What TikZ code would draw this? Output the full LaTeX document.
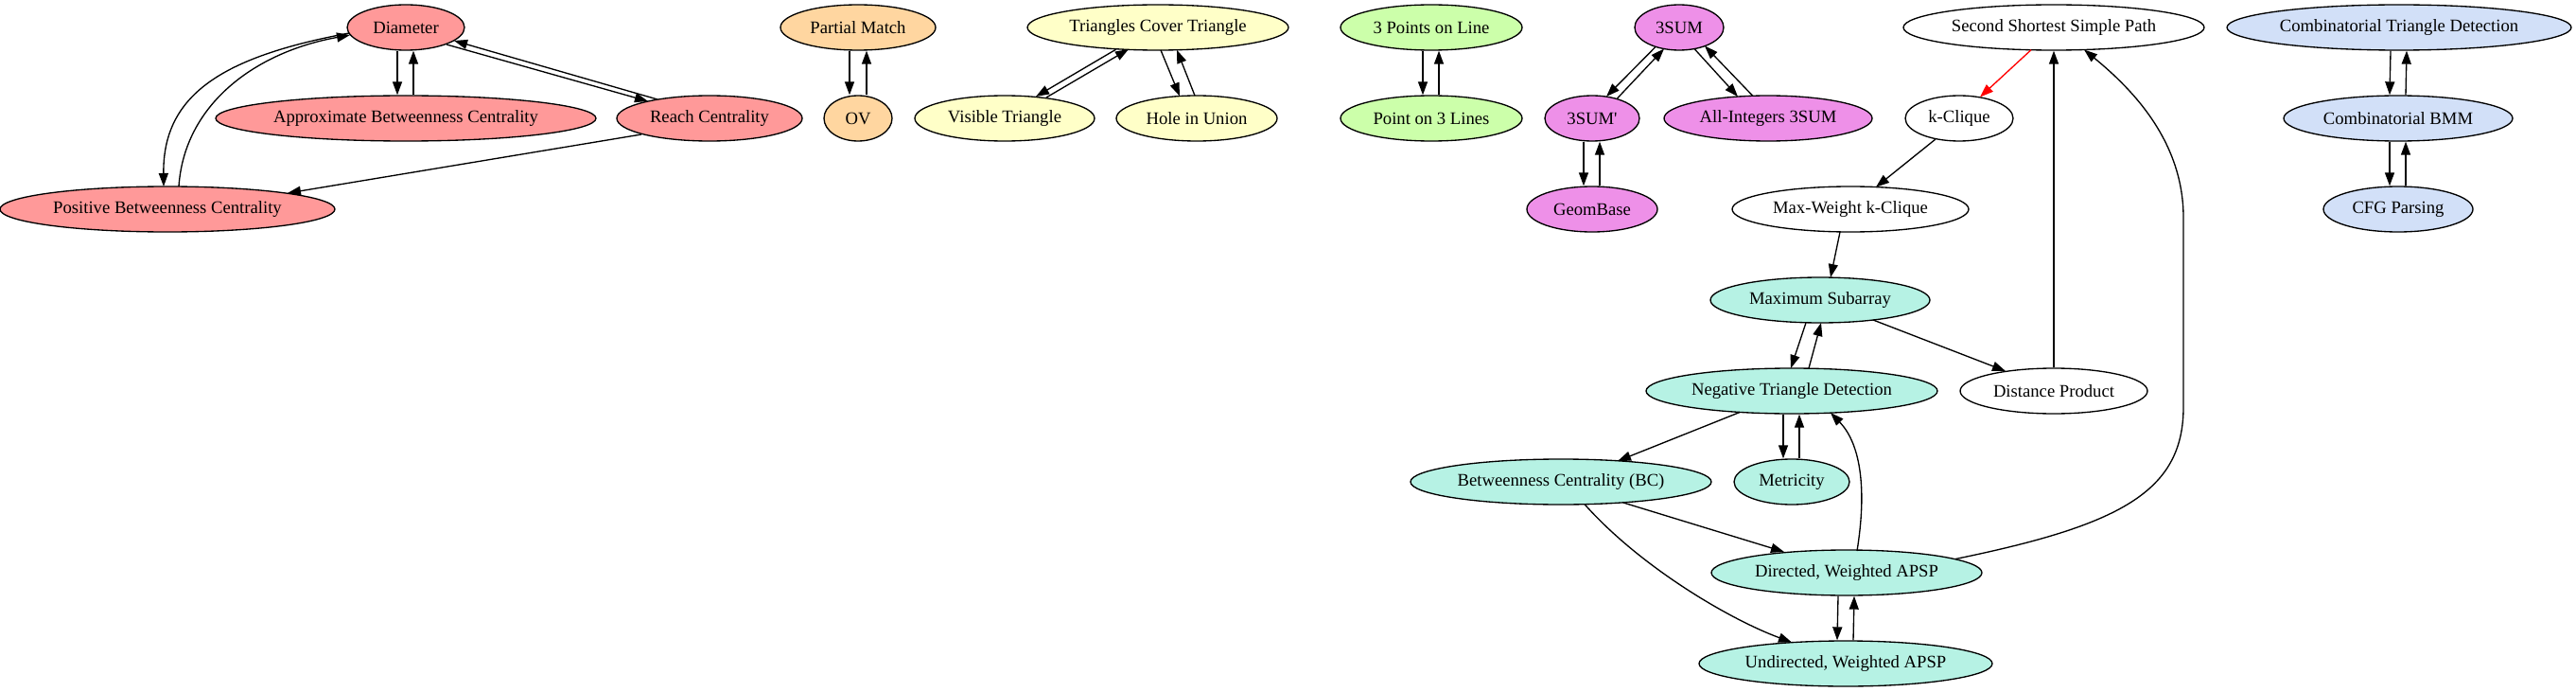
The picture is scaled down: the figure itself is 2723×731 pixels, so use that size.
\documentclass[tikz,border=0pt]{standalone}
\usepackage{fontspec}
\newfontfamily\gvfont{Liberation Serif}
\usetikzlibrary{shapes.geometric,arrows.meta,calc}
\definecolor{cred}{HTML}{FF9999}
\definecolor{corange}{HTML}{FFD6A0}
\definecolor{cyellow}{HTML}{FFFFC8}
\definecolor{cgreen}{HTML}{CCFFAA}
\definecolor{cviolet}{HTML}{EE90E8}
\definecolor{cteal}{HTML}{B6F2E4}
\definecolor{cblue}{HTML}{D2E0F8}
\begin{document}
\begin{tikzpicture}[x=0.75pt,y=-0.75pt,
  gn/.style={ellipse,draw=black,line width=1pt,inner sep=0pt,minimum height=36pt,
             font=\gvfont\fontsize{14pt}{16pt}\selectfont},
  e/.style={line width=1pt,-{Triangle[length=10.5pt,width=7.5pt]}},
  er/.style={e,draw=red,fill=red},
]
\useasboundingbox (0,0) rectangle (2723,731);

% ---- red cluster
\node[gn,fill=cred,minimum width=93pt]    (diam)  at (429,29)  {Diameter};
\node[gn,fill=cred,minimum width=301.5pt] (abc)   at (429,125) {Approximate Betweenness Centrality};
\node[gn,fill=cred,minimum width=147pt]   (reach) at (750,125) {Reach Centrality};
\node[gn,fill=cred,minimum width=265.5pt] (pbc)   at (177,221) {Positive Betweenness Centrality};
% ---- orange
\node[gn,fill=corange,minimum width=123pt] (pm) at (907,29)  {Partial Match};
\node[gn,fill=corange,minimum width=54pt]  (ov) at (907,125) {OV};
% ---- yellow
\node[gn,fill=cyellow,minimum width=207pt]   (tct) at (1224,29)  {Triangles Cover Triangle};
\node[gn,fill=cyellow,minimum width=142.5pt] (vt)  at (1062,125) {Visible Triangle};
\node[gn,fill=cyellow,minimum width=127.5pt] (hu)  at (1265,125) {Hole in Union};
% ---- green
\node[gn,fill=cgreen,minimum width=144pt] (tpl) at (1513,29)  {3 Points on Line};
\node[gn,fill=cgreen,minimum width=144pt] (ptl) at (1513,125) {Point on 3 Lines};
% ---- violet
\node[gn,fill=cviolet,minimum width=70.5pt]  (s3)  at (1775,29)  {3SUM};
\node[gn,fill=cviolet,minimum width=75pt]    (s3p) at (1683,125) {3SUM'};
\node[gn,fill=cviolet,minimum width=165pt]   (ai)  at (1869,125) {All-Integers 3SUM};
\node[gn,fill=cviolet,minimum width=103.5pt] (gb)  at (1683,221) {GeomBase};
% ---- white
\node[gn,fill=white,minimum width=238.5pt] (sssp) at (2171,29)  {Second Shortest Simple Path};
\node[gn,fill=white,minimum width=85.5pt]  (kc)   at (2071,125) {k-Clique};
\node[gn,fill=white,minimum width=187.5pt] (mwk)  at (1956,221) {Max-Weight k-Clique};
\node[gn,fill=white,minimum width=148.5pt] (dp)   at (2171,413) {Distance Product};
% ---- teal
\node[gn,fill=cteal,minimum width=174pt]   (ms)    at (1924,317) {Maximum Subarray};
\node[gn,fill=cteal,minimum width=231pt]   (ntd)   at (1894,413) {Negative Triangle Detection};
\node[gn,fill=cteal,minimum width=238.5pt] (bc)    at (1650,509) {Betweenness Centrality (BC)};
\node[gn,fill=cteal,minimum width=91.5pt]  (met)   at (1894,509) {Metricity};
\node[gn,fill=cteal,minimum width=214.5pt] (dapsp) at (1952,605) {Directed, Weighted APSP};
\node[gn,fill=cteal,minimum width=232.5pt] (uapsp) at (1951,701) {Undirected, Weighted APSP};
% ---- blue
\node[gn,fill=cblue,minimum width=273pt]   (ctd)  at (2536,29)  {Combinatorial Triangle Detection};
\node[gn,fill=cblue,minimum width=181.5pt] (cbmm) at (2535,125) {Combinatorial BMM};
\node[gn,fill=cblue,minimum width=118.5pt] (cfg)  at (2535,221) {CFG Parsing};

% ---- red cluster edges
\draw[e] ([xshift=-6.75pt]diam.south) -- ([xshift=-6.75pt]abc.north);
\draw[e] ([xshift=6pt]abc.north) -- ([xshift=6pt]diam.south);
\draw[e] ($(diam.center)+(43,18)$) -- ($(reach.center)+(-65,-18)$);
\draw[e] ($(reach.center)+(-55,-20)$) -- ($(diam.center)+(51,14)$);
\draw[e] ($(diam.center)+(-60,6)$) .. controls (235,60) and (172,100) .. ($(pbc.center)+(-4,-24)$);
\draw[e] ($(pbc.center)+(12,-24)$) .. controls (195,110) and (270,55) .. ($(diam.center)+(-59,8)$);
\draw[e] ($(reach.center)+(-72,17)$) -- ($(pbc.center)+(127,-17)$);
% ---- orange
\draw[e] ([xshift=-6.75pt]pm.south) -- ([xshift=-6.75pt]ov.north);
\draw[e] ([xshift=6.75pt]ov.north) -- ([xshift=6.75pt]pm.south);
% ---- yellow
\draw[e] ($(tct.center)+(-44,23)$) -- ($(vt.center)+(33,-23)$);
\draw[e] ($(vt.center)+(44,-22)$) -- ($(tct.center)+(-31,23)$);
\draw[e] ($(tct.center)+(3,24)$) -- ($(hu.center)+(-18,-23.5)$);
\draw[e] ($(hu.center)+(-2,-24)$) -- ($(tct.center)+(20,23.8)$);
% ---- green
\draw[e] ([xshift=-6.75pt]tpl.south) -- ([xshift=-6.75pt]ptl.north);
\draw[e] ([xshift=6pt]ptl.north) -- ([xshift=6pt]tpl.south);
% ---- violet
\draw[e] ($(s3.center)+(-25,20.5)$) -- ($(s3p.center)+(15,-23)$);
\draw[e] ($(s3p.center)+(26,-20.5)$) -- ($(s3.center)+(-16,22.5)$);
\draw[e] ($(s3.center)+(16,22.5)$) -- ($(ai.center)+(-32,-23)$);
\draw[e] ($(ai.center)+(-16,-23.5)$) -- ($(s3.center)+(27,19.5)$);
\draw[e] ([xshift=-6.75pt]s3p.south) -- ([xshift=-6.75pt]gb.north);
\draw[e] ([xshift=6pt]gb.north) -- ([xshift=6pt]s3p.south);
% ---- white / teal
\draw[er] ($(sssp.center)+(-24,23.7)$) -- ($(kc.center)+(22,-22.5)$);
\draw[e] ($(kc.center)+(-25,22)$) -- ($(mwk.center)+(27,-23.4)$);
\draw[e] ($(mwk.center)+(-11,24)$) -- ($(ms.center)+(11,-24)$);
\draw[e] ($(ms.center)+(-15,24)$) -- ($(ntd.center)+(-1,-24)$);
\draw[e] ($(ntd.center)+(18,-24)$) -- ($(ms.center)+(1,24)$);
\draw[e] ($(ms.center)+(56,21)$) -- ($(dp.center)+(-51,-21)$);
\draw[e] (dp) -- (sssp);
\draw[e] ($(dapsp.center)+(115,-14.5)$) .. controls (2240,555) and (2308,520) .. (2308,430)
         -- (2308,230) .. controls (2308,150) and (2255,95) .. ($(sssp.center)+(32,23.5)$);
\draw[e] ($(dapsp.center)+(11,-23)$) .. controls (1973,520) and (1968,470) .. ($(ntd.center)+(41,23)$);
\draw[e] ($(ntd.center)+(-55,22.5)$) -- ($(bc.center)+(60,-22)$);
\draw[e] ([xshift=-6.75pt]ntd.south) -- ([xshift=-6.75pt]met.north);
\draw[e] ([xshift=6pt]met.north) -- ([xshift=6pt]ntd.south);
\draw[e] ($(bc.center)+(66,22)$) -- ($(dapsp.center)+(-66,-22)$);
\draw[e] ($(bc.center)+(25,23.7)$) .. controls (1735,600) and (1830,655) .. ($(uapsp.center)+(-57,-22.5)$);
\draw[e] ([xshift=-6.75pt]dapsp.south) -- ([xshift=-6.75pt]uapsp.north);
\draw[e] ([xshift=6pt]uapsp.north) -- ([xshift=6pt]dapsp.south);
% ---- blue
\draw[e] ([xshift=-6.75pt]ctd.south) -- ([xshift=-6.75pt]cbmm.north);
\draw[e] ([xshift=6pt]cbmm.north) -- ([xshift=6pt]ctd.south);
\draw[e] ([xshift=-6.75pt]cbmm.south) -- ([xshift=-6.75pt]cfg.north);
\draw[e] ([xshift=6pt]cfg.north) -- ([xshift=6pt]cbmm.south);
\end{tikzpicture}
\end{document}
